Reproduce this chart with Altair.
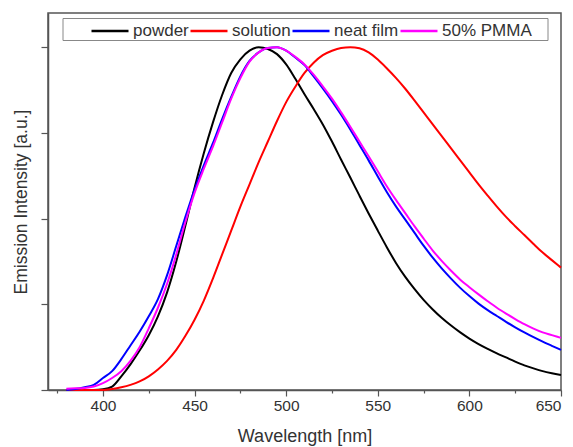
import altair as alt
import pandas as pd

wavelength = list(range(380, 655, 5))

powder = [0.0, 0.0, 0.0, 0.0, 0.002, 0.01, 0.04, 0.075, 0.115, 0.16,
          0.215, 0.285, 0.375, 0.48, 0.59, 0.69, 0.78, 0.86, 0.925, 0.965,
          0.99, 1.0, 0.995, 0.98, 0.95, 0.908, 0.863, 0.82, 0.775, 0.725,
          0.672, 0.62, 0.567, 0.515, 0.465, 0.416, 0.37, 0.33, 0.295, 0.263,
          0.235, 0.21, 0.188, 0.168, 0.15, 0.134, 0.12, 0.107, 0.095, 0.083,
          0.072, 0.063, 0.055, 0.049, 0.044]

solution = [0.0, 0.0, 0.0, 0.0, 0.0, 0.003, 0.008, 0.015, 0.025, 0.04,
            0.06, 0.085, 0.117, 0.158, 0.205, 0.26, 0.325, 0.395, 0.465, 0.535,
            0.60, 0.665, 0.725, 0.785, 0.84, 0.885, 0.925, 0.955, 0.977, 0.99,
            0.998, 1.0, 0.997, 0.985, 0.964, 0.938, 0.91, 0.879, 0.845, 0.81,
            0.775, 0.74, 0.705, 0.67, 0.635, 0.60, 0.567, 0.535, 0.505, 0.478,
            0.452, 0.426, 0.401, 0.379, 0.357]

neat_film = [0.0, 0.003, 0.008, 0.015, 0.035, 0.055, 0.09, 0.13, 0.17, 0.215,
             0.265, 0.335, 0.42, 0.505, 0.585, 0.655, 0.72, 0.79, 0.855, 0.915,
             0.96, 0.985, 0.998, 1.0, 0.99, 0.97, 0.948, 0.915, 0.88, 0.843,
             0.803, 0.76, 0.715, 0.67, 0.623, 0.577, 0.535, 0.497, 0.459, 0.421,
             0.386, 0.354, 0.325, 0.298, 0.274, 0.252, 0.233, 0.216, 0.199, 0.183,
             0.168, 0.154, 0.141, 0.129, 0.117]

pmma = [0.004, 0.005, 0.006, 0.01, 0.02, 0.035, 0.055, 0.085, 0.125, 0.18,
        0.24, 0.31, 0.395, 0.49, 0.575, 0.645, 0.71, 0.78, 0.85, 0.91,
        0.958, 0.985, 0.998, 1.0, 0.99, 0.972, 0.95, 0.92, 0.886, 0.85,
        0.81, 0.768, 0.725, 0.682, 0.638, 0.594, 0.554, 0.516, 0.478, 0.442,
        0.407, 0.376, 0.348, 0.322, 0.30, 0.279, 0.259, 0.24, 0.223, 0.207,
        0.192, 0.179, 0.168, 0.16, 0.152]

series_names = ["powder", "solution", "neat film", "50% PMMA"]
series_colors = ["#000000", "#ff0000", "#0000ff", "#ff00ff"]
x_ticks = [375, 400, 425, 450, 475, 500, 525, 550, 575, 600, 625, 650]
y_ticks = [0, 0.25, 0.5, 0.75, 1.0]

rows = []
for name, vals in zip(series_names, [powder, solution, neat_film, pmma]):
    for i, (w, v) in enumerate(zip(wavelength, vals)):
        rows.append({"series": name, "wavelength": w, "intensity": v, "order": i})
df = pd.DataFrame(rows)

FONT = "Liberation Sans"

box = alt.Chart(pd.DataFrame({"a": [0]})).mark_rect(
    fill="white", stroke="#888888", strokeWidth=1
).encode(
    x=alt.value(15), x2=alt.value(500), y=alt.value(5.5), y2=alt.value(27.5)
)

lines = alt.Chart(df).mark_line(strokeWidth=2, interpolate="monotone").encode(
    x=alt.X("wavelength:Q",
            scale=alt.Scale(domain=[370, 650], nice=False, zero=False),
            axis=alt.Axis(
                title="Wavelength [nm]",
                values=x_ticks,
                labelExpr="datum.value % 50 === 0 ? datum.label : ''",
                tickSize={"condition": {"test": "datum.value % 50 === 0", "value": 6}, "value": 3},
                grid=False,
                labelFontSize=15.5,
                titleFontSize=18,
                titleFontWeight="normal",
                labelPadding=2,
                titlePadding=14,
            )),
    y=alt.Y("intensity:Q",
            scale=alt.Scale(domain=[0, 1.1], nice=False),
            axis=alt.Axis(
                title="Emission Intensity [a.u.]",
                values=y_ticks,
                labels=False,
                tickSize=7,
                grid=False,
                titleFontSize=17.5,
                titleFontWeight="normal",
                titlePadding=10,
            )),
    color=alt.Color("series:N",
                    scale=alt.Scale(domain=series_names, range=series_colors),
                    legend=alt.Legend(
                        orient="none", direction="horizontal",
                        legendX=42, legendY=-2,
                        title=None,
                        symbolType="stroke", symbolSize=1369,
                        symbolStrokeWidth=2.5,
                        labelFontSize=17, labelFont=FONT, labelColor="#333333",
                        labelOffset=3, columnPadding=-5, padding=0,
                    )),
    order=alt.Order("order:Q"),
    detail="series:N",
)

chart = alt.layer(box, lines).properties(
    width=513, height=377,
    autosize=alt.AutoSizeParams(type="none"),
    padding={"left": 48, "top": 13, "right": 12, "bottom": 57},
).configure_view(
    stroke="#555555", strokeWidth=1.5
).configure_axis(
    domainColor="#555555", domainWidth=1.5,
    tickColor="#555555", tickWidth=1.2,
    labelFont=FONT, titleFont=FONT,
    labelColor="#333333", titleColor="#333333",
)

chart.save("out.html", embed_options={"renderer": "svg", "actions": False})
